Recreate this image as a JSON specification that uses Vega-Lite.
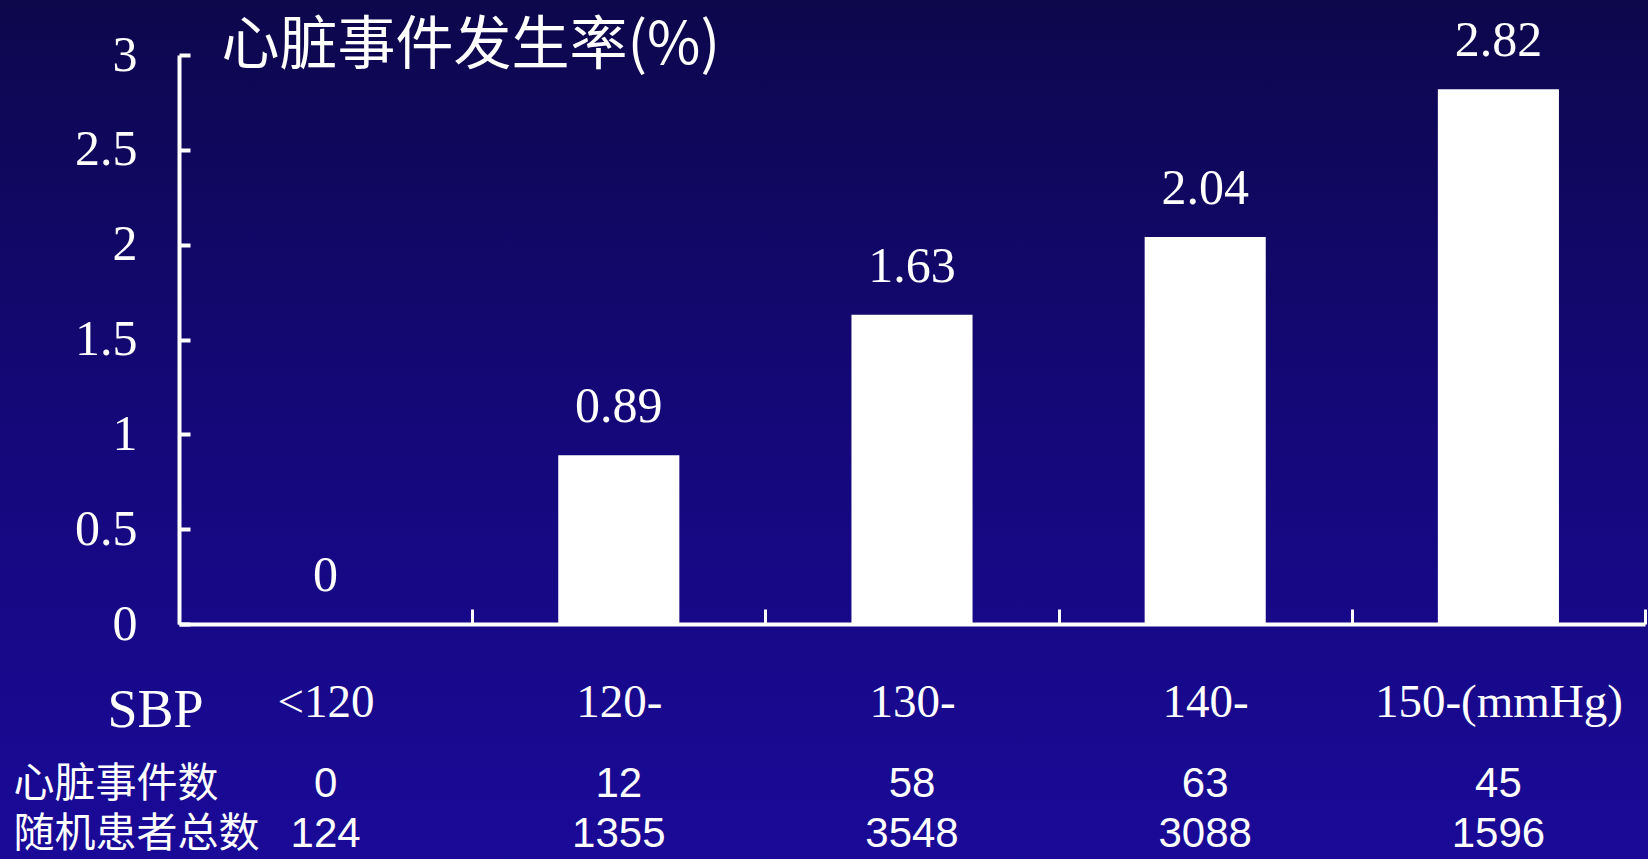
{
  "$schema": "https://vega.github.io/schema/vega-lite/v6.json",
  "width": 1648,
  "height": 859,
  "autosize": {"type": "none"},
  "padding": 0,
  "background": "#14087a",
  "view": {
    "stroke": null,
    "fill": {
      "gradient": "linear",
      "x1": 0, "y1": 0, "x2": 0, "y2": 1,
      "stops": [
        {"offset": 0, "color": "#0d074c"},
        {"offset": 0.5, "color": "#14087a"},
        {"offset": 1, "color": "#1a0a98"}
      ]
    }
  },
  "data": {
    "values": [
      {"SBP": "<120", "rate": 0, "心脏事件数": 0, "随机患者总数": 124},
      {"SBP": "120-", "rate": 0.89, "心脏事件数": 12, "随机患者总数": 1355},
      {"SBP": "130-", "rate": 1.63, "心脏事件数": 58, "随机患者总数": 3548},
      {"SBP": "140-", "rate": 2.04, "心脏事件数": 63, "随机患者总数": 3088},
      {"SBP": "150-", "rate": 2.82, "心脏事件数": 45, "随机患者总数": 1596}
    ]
  },
  "encoding": {
    "x": {
      "field": "SBP",
      "type": "nominal",
      "sort": null,
      "scale": {"range": [179, 1645], "paddingInner": 0, "paddingOuter": 0},
      "axis": {
        "orient": "bottom",
        "offset": -235,
        "title": "SBP",
        "labelExpr": "datum.value === '150-' ? '150-(mmHg)' : datum.label",
        "domainColor": "white",
        "domainWidth": 4,
        "tickColor": "white",
        "tickWidth": 3,
        "tickSize": -15,
        "tickBand": "extent",
        "labelColor": "white",
        "labelFont": "Liberation Serif",
        "labelFontSize": 47,
        "labelAngle": 0,
        "labelBaseline": "middle",
        "labelPadding": 93,
        "labelLimit": 0,
        "labelOverlap": false,
        "grid": false,
        "titleColor": "white",
        "titleFont": "Liberation Serif",
        "titleFontSize": 54,
        "titleFontWeight": "normal",
        "titleX": 155,
        "titleY": 86,
        "titleAlign": "center",
        "titleBaseline": "middle"
      }
    }
  },
  "layer": [
    {
      "encoding": {
        "y": {
          "field": "rate",
          "type": "quantitative",
          "scale": {"domain": [0, 3], "range": [624, 55], "nice": false},
          "axis": {
            "orient": "left",
            "offset": -179,
            "values": [0, 0.5, 1, 1.5, 2, 2.5, 3],
            "format": ".1~f",
            "domainColor": "white",
            "domainWidth": 4,
            "tickColor": "white",
            "tickWidth": 4,
            "tickSize": -11,
            "labelColor": "white",
            "labelFont": "Liberation Serif",
            "labelFontSize": 50,
            "labelPadding": 53,
            "labelBaseline": "middle",
            "labelFlush": false,
            "labelOverlap": false,
            "grid": false,
            "title": "心脏事件发生率(%)",
            "titleAngle": 0,
            "titleX": 42,
            "titleY": 46,
            "titleAlign": "left",
            "titleBaseline": "middle",
            "titleFont": "Noto Sans CJK SC",
            "titleFontSize": 58,
            "titleFontWeight": "normal",
            "titleColor": "white"
          }
        }
      },
      "layer": [
        {
          "mark": {"type": "bar", "color": "white", "width": {"band": 0.413}}
        },
        {
          "mark": {"type": "text", "color": "white", "font": "Liberation Serif", "fontSize": 50, "baseline": "middle", "dy": -48},
          "encoding": {
            "text": {"field": "rate", "type": "quantitative", "format": ".2~f"}
          }
        }
      ]
    },
    {
      "transform": [{"fold": ["心脏事件数", "随机患者总数"], "as": ["row", "count"]}],
      "mark": {"type": "text", "color": "white", "font": "Liberation Sans", "fontSize": 42, "baseline": "middle"},
      "encoding": {
        "y": {
          "field": "row",
          "type": "nominal",
          "sort": ["心脏事件数", "随机患者总数"],
          "scale": {"range": [784, 834], "padding": 0},
          "axis": {
            "orient": "left",
            "offset": 0,
            "title": null,
            "domain": false,
            "ticks": false,
            "grid": false,
            "labelAlign": "left",
            "labelBaseline": "middle",
            "labelPadding": -13,
            "labelLimit": 0,
            "labelColor": "white",
            "labelFont": "Noto Sans CJK SC",
            "labelFontSize": 41
          }
        },
        "text": {"field": "count", "type": "quantitative", "format": "d"}
      }
    }
  ],
  "resolve": {"scale": {"y": "independent"}, "axis": {"y": "independent"}}
}
